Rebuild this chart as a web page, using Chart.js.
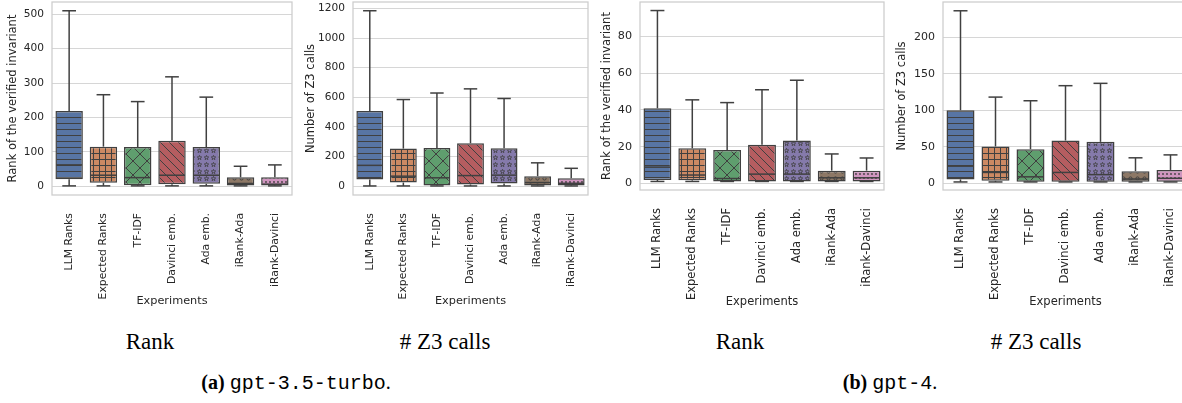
<!DOCTYPE html>
<html>
<head>
<meta charset="utf-8">
<script src="https://cdn.jsdelivr.net/npm/chart.js@4/dist/chart.umd.min.js"></script>
<style>
  html, body { margin: 0; padding: 0; background: #fff; }
  body { width: 1182px; height: 403px; position: relative; overflow: hidden; }
  canvas { position: absolute; top: 0; }
  .cap { position: absolute; text-align: center; font-family: "Liberation Serif", serif; color: #000; white-space: nowrap; }
  .mono { font-family: "Liberation Mono", "DejaVu Sans Mono", monospace; }
</style>
</head>
<body>
<canvas id="c1" width="293" height="312" style="left:0px"></canvas>
<canvas id="c2" width="293" height="312" style="left:296px"></canvas>
<canvas id="c3" width="291" height="313" style="left:594px"></canvas>
<canvas id="c4" width="300" height="313" style="left:889px"></canvas>

<div class="cap" style="left:50px;width:200px;top:329px;font-size:23px;">Rank</div>
<div class="cap" style="left:345px;width:200px;top:329px;font-size:23px;"># Z3 calls</div>
<div class="cap" style="left:640px;width:200px;top:329px;font-size:23px;">Rank</div>
<div class="cap" style="left:936px;width:200px;top:329px;font-size:23px;"># Z3 calls</div>
<div class="cap" style="left:146px;width:300px;top:371px;font-size:20px;"><b>(a)</b> <span class="mono">gpt-3.5-turbo</span>.</div>
<div class="cap" style="left:740px;width:300px;top:371px;font-size:20px;"><b>(b)</b> <span class="mono">gpt-4</span>.</div>

<script>
// categories
const experiments = ['LLM Ranks', 'Expected Ranks', 'TF-IDF', 'Davinci emb.', 'Ada emb.', 'iRank-Ada', 'iRank-Davinci'];

// (a) gpt-3.5-turbo, rank of the verified invariant
const rank35Low  = [1, 1, 1, 1, 1, 1, 1];
const rank35Q1   = [20, 10, 3, 6, 7, 2, 2];
const rank35Med  = [62, 32, 25, 32, 32, 8, 6];
const rank35Q3   = [219, 115, 114, 132, 114, 26, 26];
const rank35High = [510, 266, 246, 318, 259, 58, 62];

// (a) gpt-3.5-turbo, number of Z3 calls
const z3_35Low  = [2, 2, 2, 2, 2, 2, 2];
const z3_35Q1   = [45, 25, 5, 12, 18, 5, 5];
const z3_35Med  = [141, 68, 57, 72, 75, 25, 20];
const z3_35Q3   = [507, 254, 258, 290, 256, 68, 54];
const z3_35High = [1184, 585, 629, 657, 592, 158, 121];

// (b) gpt-4, rank of the verified invariant
const rank4Low  = [1, 1, 1, 1, 1, 1, 1];
const rank4Q1   = [1.8, 1.6, 1, 1, 1, 1, 1];
const rank4Med  = [8.8, 4.5, 2.6, 5, 5, 3, 3];
const rank4Q3   = [40.9, 19.1, 18.2, 21, 23.3, 6.9, 6.9];
const rank4High = [94.2, 45.5, 44, 51, 56.2, 16, 13.8];

// (b) gpt-4, number of Z3 calls
const z3_4Low  = [2, 2, 2, 2, 2, 2, 2];
const z3_4Q1   = [5.5, 3.5, 2.3, 2.3, 2.3, 2.3, 2.3];
const z3_4Med  = [23.6, 15, 9, 15, 12, 6, 7];
const z3_4Q3   = [100, 50.5, 46.8, 58.6, 56.8, 16.8, 18.4];
const z3_4High = [236, 118, 113, 133.6, 136.8, 35, 39];

// tick labels
const rank35Ticks = [0, 100, 200, 300, 400, 500];
const z3_35Ticks  = [0, 200, 400, 600, 800, 1000, 1200];
const rank4Ticks  = [0, 20, 40, 60, 80];
const z3_4Ticks   = [0, 50, 100, 150, 200];

const boxColors = ['#5875A4', '#CC8963', '#5F9E6E', '#B55D60', '#857AAB', '#8D7866', '#D095BF'];
const hatchKinds = ['-', '+', 'x', '\\', '*', 'o', '.'];
const EDGE = '#404040';
const TEXT = '#262626';

// hatch fill for one box
function makePattern(kind, color) {
  const sizes = { '-': [6, 6], '+': [6, 6], 'x': [14, 14], '\\': [9, 9], '*': [7, 7], 'o': [7, 7], '.': [4, 4] };
  const [w, h] = sizes[kind];
  const tile = document.createElement('canvas');
  tile.width = w; tile.height = h;
  const g = tile.getContext('2d');
  g.fillStyle = color;
  g.fillRect(0, 0, w, h);
  g.fillStyle = EDGE;
  g.strokeStyle = EDGE;
  g.lineWidth = 1;
  if (kind === '-') {
    g.fillRect(0, 3, w, 1);
  } else if (kind === '+') {
    g.fillRect(0, 3, w, 1);
    g.fillRect(3, 0, 1, h);
  } else if (kind === 'x' || kind === '\\') {
    g.beginPath();
    for (const k of [-w, 0, w]) {
      g.moveTo(k - 1, -1); g.lineTo(k + w + 1, h + 1);
      if (kind === 'x') { g.moveTo(k + w + 1, -1); g.lineTo(k - 1, h + 1); }
    }
    g.stroke();
  } else if (kind === '*') {
    g.lineWidth = 0.8;
    g.beginPath();
    for (let i = 0; i < 10; i++) {
      const r = i % 2 ? 1 : 2.4;
      const a = -Math.PI / 2 + i * Math.PI / 5;
      const px = 3.5 + r * Math.cos(a), py = 3.7 + r * Math.sin(a);
      i ? g.lineTo(px, py) : g.moveTo(px, py);
    }
    g.closePath();
    g.stroke();
  } else if (kind === 'o') {
    g.beginPath();
    g.arc(3.5, 3.5, 1.6, 0, Math.PI * 2);
    g.stroke();
  } else if (kind === '.') {
    g.beginPath();
    g.arc(2, 2, 0.9, 0, Math.PI * 2);
    g.fill();
  }
  return tile.getContext('2d').createPattern(tile, 'repeat');
}

// whiskers, caps, medians and the plot frame
const boxExtras = {
  id: 'boxExtras',
  afterDatasetsDraw(chart, args, opts) {
    const { ctx, chartArea, scales: { x, y } } = chart;
    const meta = chart.getDatasetMeta(0);
    const line = (x1, y1, x2, y2) => { ctx.beginPath(); ctx.moveTo(x1, y1); ctx.lineTo(x2, y2); ctx.stroke(); };
    ctx.save();
    ctx.strokeStyle = EDGE;
    ctx.lineWidth = 1.5;
    meta.data.forEach((bar, i) => {
      const cx = x.getPixelForValue(i);
      const hw = bar.width / 2;
      const pLow = y.getPixelForValue(opts.low[i]);
      const pQ1 = y.getPixelForValue(opts.q1[i]);
      const pMed = y.getPixelForValue(opts.med[i]);
      const pQ3 = y.getPixelForValue(opts.q3[i]);
      const pHigh = y.getPixelForValue(opts.high[i]);
      line(cx, pQ3, cx, pHigh);
      line(cx - hw / 2, pHigh, cx + hw / 2, pHigh);
      line(cx, pQ1, cx, pLow);
      line(cx - hw / 2, pLow, cx + hw / 2, pLow);
      line(cx - hw + 0.75, pMed, cx + hw - 0.75, pMed);
    });
    ctx.strokeStyle = '#cccccc';
    ctx.lineWidth = 1.25;
    ctx.strokeRect(chartArea.left, chartArea.top, chartArea.right - chartArea.left, chartArea.bottom - chartArea.top);
    ctx.restore();
  }
};

function drawPanel(id, cfg) {
  const canvas = document.getElementById(id);
  const q1q3 = cfg.q1.map((v, i) => [v, cfg.q3[i]]);
  new Chart(canvas, {
    type: 'bar',
    data: {
      labels: experiments,
      datasets: [{
        data: q1q3,
        backgroundColor: boxColors.map((c, i) => makePattern(hatchKinds[i], c)),
        borderColor: EDGE,
        borderWidth: 1.5,
        borderSkipped: false,
        barPercentage: 0.8,
        categoryPercentage: 1.0
      }]
    },
    options: {
      responsive: false,
      animation: false,
      devicePixelRatio: 1,
      layout: { padding: { top: 2, right: 1, left: 0, bottom: 0 } },
      plugins: {
        legend: { display: false },
        tooltip: { enabled: false },
        boxExtras: { low: cfg.low, q1: cfg.q1, med: cfg.med, q3: cfg.q3, high: cfg.high }
      },
      scales: {
        x: {
          offset: true,
          grid: { display: false },
          border: { display: false },
          ticks: {
            autoSkip: false, minRotation: 90, maxRotation: 90, padding: 10,
            color: TEXT, font: { family: 'DejaVu Sans', size: cfg.xFont }
          },
          title: {
            display: true, text: 'Experiments', color: TEXT,
            font: { family: 'DejaVu Sans', size: cfg.xTitleFont }
          },
          afterFit(scale) {
            scale.height = canvas.height - cfg.plotBottom;
            scale.paddingLeft = 0; scale.paddingRight = 0;
            scale.paddingTop = 0; scale.paddingBottom = 0;
          }
        },
        y: {
          min: cfg.min, max: cfg.max,
          grid: { color: '#d6d6d6', lineWidth: 1, drawTicks: false },
          border: { display: false },
          ticks: {
            padding: 8, color: TEXT, font: { family: 'DejaVu Sans', size: cfg.yFont },
            callback: (v) => String(v)
          },
          title: {
            display: true, text: cfg.yTitle, color: TEXT,
            padding: { top: cfg.titlePad, bottom: 4 },
            font: { family: 'DejaVu Sans', size: cfg.yTitleFont }
          },
          afterBuildTicks(scale) { scale.ticks = cfg.ticks.map(v => ({ value: v })); },
          afterFit(scale) {
            scale.width = cfg.yWidth;
            scale.paddingLeft = 0; scale.paddingRight = 0;
            scale.paddingTop = 0; scale.paddingBottom = 0;
          }
        }
      }
    },
    plugins: [boxExtras]
  });
}

drawPanel('c1', {
  low: rank35Low, q1: rank35Q1, med: rank35Med, q3: rank35Q3, high: rank35High,
  ticks: rank35Ticks, min: -25.5, max: 535.5, yTitle: 'Rank of the verified invariant',
  yWidth: 52, titlePad: 6.6, plotBottom: 195,
  xFont: 10.8, xTitleFont: 11.3, yFont: 10.6, yTitleFont: 11.5
});
drawPanel('c2', {
  low: z3_35Low, q1: z3_35Q1, med: z3_35Med, q3: z3_35Q3, high: z3_35High,
  ticks: z3_35Ticks, min: -59, max: 1243, yTitle: 'Number of Z3 calls',
  yWidth: 57, titlePad: 8.1, plotBottom: 195,
  xFont: 10.8, xTitleFont: 11.3, yFont: 10.6, yTitleFont: 11.5
});
drawPanel('c3', {
  low: rank4Low, q1: rank4Q1, med: rank4Med, q3: rank4Q3, high: rank4High,
  ticks: rank4Ticks, min: -3.66, max: 98.86, yTitle: 'Rank of the verified invariant',
  yWidth: 46, titlePad: 6.6, plotBottom: 190,
  xFont: 11.5, xTitleFont: 11.5, yFont: 11.2, yTitleFont: 11.5
});
drawPanel('c4', {
  low: z3_4Low, q1: z3_4Q1, med: z3_4Med, q3: z3_4Q3, high: z3_4High,
  ticks: z3_4Ticks, min: -9, max: 248, yTitle: 'Number of Z3 calls',
  yWidth: 54, titlePad: 6.1, plotBottom: 190,
  xFont: 11.5, xTitleFont: 11.5, yFont: 11, yTitleFont: 11.5
});
</script>
</body>
</html>
